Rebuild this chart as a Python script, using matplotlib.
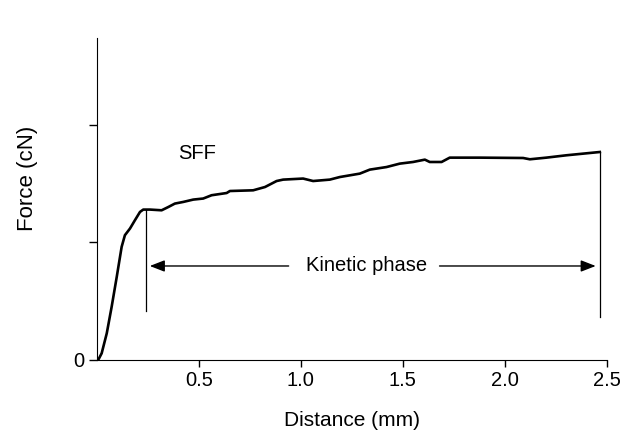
import matplotlib
matplotlib.use('Agg')
import matplotlib.pyplot as plt

plt.rcParams['font.family'] = ['Liberation Sans', 'DejaVu Sans']

# curve (distance in mm, force in axis units)
distance = [0.006, 0.023, 0.048, 0.072, 0.097, 0.121, 0.137, 0.162, 0.186, 0.211,
            0.227, 0.260, 0.317, 0.350, 0.382, 0.423, 0.472, 0.521, 0.562, 0.636,
            0.652, 0.766, 0.824, 0.881, 0.913, 1.011, 1.060, 1.142, 1.191, 1.289,
            1.338, 1.420, 1.485, 1.550, 1.608, 1.632, 1.690, 1.730, 1.877, 2.090,
            2.123, 2.204, 2.302, 2.384, 2.466]
force = [0.000, 0.057, 0.227, 0.453, 0.708, 0.963, 1.062, 1.119, 1.189, 1.260,
         1.280, 1.280, 1.274, 1.302, 1.331, 1.345, 1.365, 1.374, 1.402, 1.421,
         1.438, 1.444, 1.472, 1.523, 1.535, 1.544, 1.523, 1.535, 1.557, 1.586,
         1.620, 1.642, 1.671, 1.685, 1.705, 1.685, 1.685, 1.722, 1.722, 1.719,
         1.708, 1.722, 1.742, 1.756, 1.770]

phase_start = 0.239
phase_end = 2.466
phase_start_bottom = 0.416
phase_end_bottom = 0.368
arrow_y = 0.80

fig = plt.figure(figsize=(6.33, 4.30), dpi=100)
ax = fig.add_axes([0.1532, 0.1628, 0.8053, 0.7488])

ax.plot(distance, force, color='black', lw=1.9, solid_joinstyle='round')

# kinetic phase markers
ax.plot([phase_start, phase_start], [phase_start_bottom, 1.28], color='black', lw=0.9)
ax.plot([phase_end, phase_end], [phase_end_bottom, 1.770], color='black', lw=0.9)

ax.text(1.32, arrow_y, 'Kinetic phase', ha='center', va='center', fontsize=14.5)
arrow_kw = dict(arrowstyle='-|>,head_length=0.9,head_width=0.35', color='black', lw=1.0,
                shrinkA=0, shrinkB=0)
ax.annotate('', xy=(phase_start + 0.02, arrow_y), xytext=(0.94, arrow_y), arrowprops=arrow_kw)
ax.annotate('', xy=(phase_end - 0.02, arrow_y), xytext=(1.68, arrow_y), arrowprops=arrow_kw)

ax.text(0.40, 1.755, 'SFF', ha='left', va='center', fontsize=14.5)

ax.set_xlim(0, 2.5)
ax.set_ylim(0, 2.74)
ax.set_xticks([0.5, 1.0, 1.5, 2.0, 2.5])
ax.set_xticklabels(['0.5', '1.0', '1.5', '2.0', '2.5'])
ax.set_yticks([0, 1, 2])
ax.set_yticklabels(['0', '', ''])
ax.tick_params(axis='both', labelsize=14.5, direction='out', width=1.0)
ax.tick_params(axis='y', length=6, pad=3)
ax.tick_params(axis='x', length=5, pad=3)

ax.spines['top'].set_visible(False)
ax.spines['right'].set_visible(False)

ax.set_xlabel('Distance (mm)', fontsize=15, labelpad=15)
ax.set_ylabel('Force (cN)', fontsize=16)
ax.yaxis.set_label_coords(-0.115, 0.565)

fig.savefig('out.png', dpi=100)
